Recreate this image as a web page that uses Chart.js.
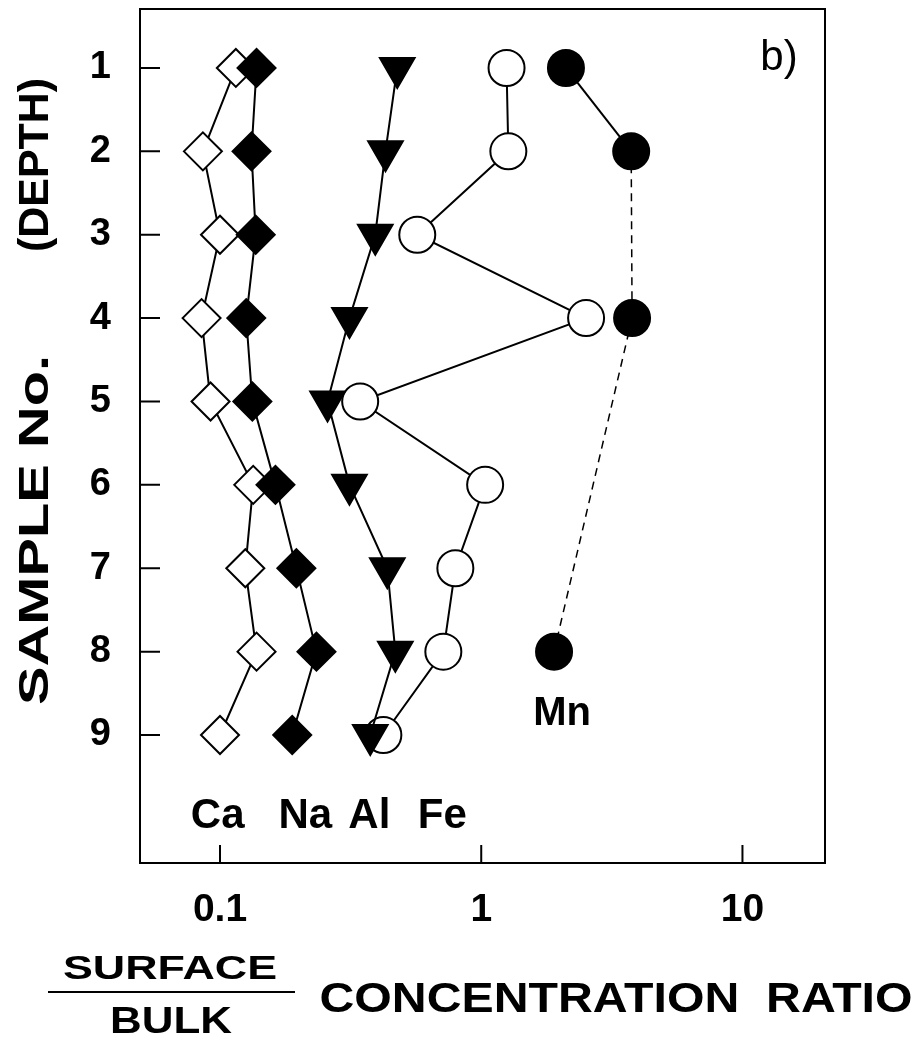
<!DOCTYPE html>
<html>
<head>
<meta charset="utf-8">
<script src="https://cdn.jsdelivr.net/npm/chart.js@4/dist/chart.umd.min.js"></script>
<style>
  html, body { margin: 0; padding: 0; background: #fff; }
  #wrap { width: 924px; height: 1040px; position: relative; }
</style>
</head>
<body>
<div id="wrap"><canvas id="ratioChart"></canvas></div>
<script>
// sample number (depth) on the y axis
const samples = [1, 2, 3, 4, 5, 6, 7, 8, 9];

// surface / bulk concentration ratios
const caRatio = [0.115, 0.086, 0.100, 0.085, 0.092, 0.134, 0.125, 0.138, 0.100];
const naRatio = [0.138, 0.132, 0.137, 0.126, 0.133, 0.163, 0.196, 0.234, 0.189];
const alRatio = [0.477, 0.430, 0.393, 0.313, 0.258, 0.313, 0.437, 0.469, 0.376];
const feRatio = [1.25, 1.27, 0.569, 2.52, 0.344, 1.035, 0.796, 0.716, 0.422];
const mnRatio = [2.11, 3.75, null, 3.78, null, null, null, 1.90, null];

const xTicks = [0.1, 1, 10];
const xTickLabels = ['0.1', '1', '10'];

const FONT = "'Liberation Sans', Arial, Helvetica, sans-serif";

// element name labels, placed in data coordinates
const elementLabels = [
  { text: 'Ca', x: 0.098, y: 10.11 },
  { text: 'Na', x: 0.212, y: 10.11 },
  { text: 'Al', x: 0.373, y: 10.11 },
  { text: 'Fe', x: 0.71, y: 10.11 },
  { text: 'Mn', x: 2.04, y: 8.88 }
];

const toPoints = vals => samples.map((s, i) => ({ x: vals[i], y: s }));

function stretchText(ctx, text, x, y, targetW, rot) {
  ctx.save();
  ctx.translate(x, y);
  ctx.rotate(rot || 0);
  const w = ctx.measureText(text).width;
  ctx.scale(targetW / w, 1);
  ctx.textAlign = 'center';
  ctx.fillText(text, 0, 0);
  ctx.restore();
}

const framePlugin = {
  id: 'frame',
  afterDraw(chart) {
    const { ctx, chartArea: a, scales } = chart;
    const xs = scales.x, ys = scales.y;
    ctx.save();
    ctx.strokeStyle = '#000';
    ctx.lineWidth = 2;
    ctx.strokeRect(a.left, a.top, a.right - a.left, a.bottom - a.top);

    // inward tick marks
    ctx.beginPath();
    samples.forEach(s => {
      const py = ys.getPixelForValue(s);
      ctx.moveTo(a.left, py);
      ctx.lineTo(a.left + 20, py);
    });
    xTicks.forEach(v => {
      const px = xs.getPixelForValue(v);
      ctx.moveTo(px, a.bottom);
      ctx.lineTo(px, a.bottom - 18);
    });
    ctx.stroke();

    // element labels
    ctx.fillStyle = '#000';
    ctx.textAlign = 'center';
    ctx.textBaseline = 'alphabetic';
    elementLabels.forEach(l => {
      ctx.font = (l.text === 'Mn' ? 'bold 40px ' : 'bold 42px ') + FONT;
      ctx.fillText(l.text, xs.getPixelForValue(l.x), ys.getPixelForValue(l.y));
    });

    // panel tag
    ctx.font = '42px ' + FONT;
    ctx.fillText('b)', xs.getPixelForValue(13.8), ys.getPixelForValue(1.02));

    // y axis title
    ctx.font = 'bold 42px ' + FONT;
    stretchText(ctx, 'SAMPLE No.', 48, 530, 350, -Math.PI / 2);
    stretchText(ctx, '(DEPTH)', 48, 165, 174, -Math.PI / 2);

    // x axis title: SURFACE / BULK  CONCENTRATION RATIO
    ctx.font = 'bold 34px ' + FONT;
    stretchText(ctx, 'SURFACE', 170, 979, 214, 0);
    ctx.font = 'bold 36px ' + FONT;
    stretchText(ctx, 'BULK', 171, 1033, 122, 0);
    ctx.beginPath();
    ctx.moveTo(48, 992);
    ctx.lineTo(295, 992);
    ctx.stroke();
    ctx.font = 'bold 42px ' + FONT;
    stretchText(ctx, 'CONCENTRATION  RATIO', 616, 1012, 593, 0);
    ctx.restore();
  }
};

const lineBase = {
  showLine: true,
  borderColor: '#000',
  borderWidth: 2,
  pointBorderColor: '#000',
  pointBorderWidth: 2,
  pointHoverRadius: 0
};

// a Mn segment that jumps over missing samples is drawn dashed
const mnGap = c => mnRatio[c.p0DataIndex] == null;

new Chart(document.getElementById('ratioChart'), {
  type: 'scatter',
  data: {
    datasets: [
      { ...lineBase, label: 'Na', data: toPoints(naRatio), order: 1,
        pointStyle: 'rectRot', pointRadius: 19, pointBackgroundColor: '#000' },
      { ...lineBase, label: 'Ca', data: toPoints(caRatio), order: 2,
        pointStyle: 'rectRot', pointRadius: 19, pointBackgroundColor: '#fff' },
      { ...lineBase, label: 'Al', data: toPoints(alRatio), order: 3,
        pointStyle: 'triangle', pointRotation: 180, pointRadius: 20, pointBackgroundColor: '#000' },
      { ...lineBase, label: 'Fe', data: toPoints(feRatio), order: 4,
        pointStyle: 'circle', pointRadius: 18, pointBackgroundColor: '#fff' },
      { ...lineBase, label: 'Mn', data: toPoints(mnRatio), order: 5, spanGaps: true,
        pointStyle: 'circle', pointRadius: 18, pointBackgroundColor: '#000',
        segment: {
          borderDash: c => (mnGap(c) ? [8, 6] : undefined),
          borderWidth: c => (mnGap(c) ? 1.5 : 2)
        } }
    ]
  },
  options: {
    responsive: true,
    maintainAspectRatio: false,
    animation: false,
    events: [],
    layout: { autoPadding: false, padding: { top: 9, right: 99, left: 0, bottom: 0 } },
    plugins: {
      legend: { display: false },
      tooltip: { enabled: false }
    },
    scales: {
      x: {
        type: 'logarithmic',
        min: 0.0494,
        max: 20.7,
        grid: { display: false },
        border: { display: false },
        afterBuildTicks: s => { s.ticks = xTicks.map(v => ({ value: v })); },
        afterFit: s => { s.height = 177; s.paddingLeft = 0; s.paddingRight = 0; },
        ticks: {
          autoSkip: false,
          maxRotation: 0,
          padding: 16,
          color: '#000',
          font: { family: FONT, size: 39, weight: 'bold' },
          callback: v => xTickLabels[xTicks.indexOf(v)] ?? ''
        }
      },
      y: {
        type: 'linear',
        reverse: true,
        min: 0.293,
        max: 10.535,
        grid: { display: false },
        border: { display: false },
        afterBuildTicks: s => { s.ticks = samples.map(v => ({ value: v })); },
        afterFit: s => { s.width = 140; s.paddingTop = 0; s.paddingBottom = 0; },
        ticks: {
          autoSkip: false,
          padding: 21,
          color: '#000',
          font: { family: FONT, size: 38, weight: 'bold' },
          callback: v => String(v)
        }
      }
    }
  },
  plugins: [framePlugin]
});
</script>
</body>
</html>
